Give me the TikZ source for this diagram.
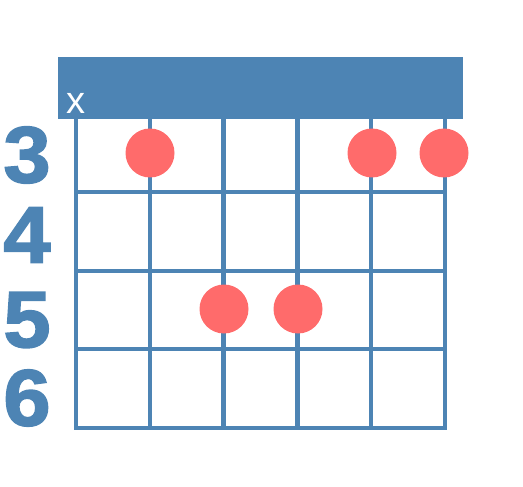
\documentclass[tikz,border=0pt]{standalone}
\usepackage{fontspec}
\setmainfont{Liberation Sans}
\newfontfamily\fretfont[FakeBold=2]{Liberation Sans Bold}
\definecolor{ChordBlue}{HTML}{4D84B4}
\definecolor{ChordDot}{HTML}{FF6B6B}
\tikzset{
  fingerdot/.style={circle,fill=ChordDot,minimum size=49pt,inner sep=0pt},
  fretnum/.style={text=ChordBlue,inner sep=0pt,xscale=1.06,font=\fontsize{80}{80}\fretfont}
}

\begin{document}
\begin{tikzpicture}[x=1pt,y=-1pt]
    \useasboundingbox (0,0) rectangle (523,487);
    % strings and frets
    \foreach \i in {0,...,5} {
      \draw[ChordBlue,line width=4.5pt] ({76+\i*73.8},119) -- ({76+\i*73.8},430);
    }
    \foreach \y in {192,271,349,428} {
      \draw[ChordBlue,line width=4.5pt] (74,\y) -- (447,\y);
    }
    \fill[ChordBlue] (58,57) rectangle (463,119);
    \node[text=white,inner sep=0pt,font=\fontsize{38}{38}\selectfont] (mute) at (76,103) {x};
    \foreach \n/\f in {3/155,4/235,5/320,6/398} {
      \node[fretnum] (fret\n) at (27,\f) {\n};
    }
    \foreach \n/\x/\y in {a/150/153,b/372/153,c/444/153,d/224/309,e/298/309} {
      \node[fingerdot] (dot\n) at (\x,\y) {};
    }
  \end{tikzpicture}
\end{document}
